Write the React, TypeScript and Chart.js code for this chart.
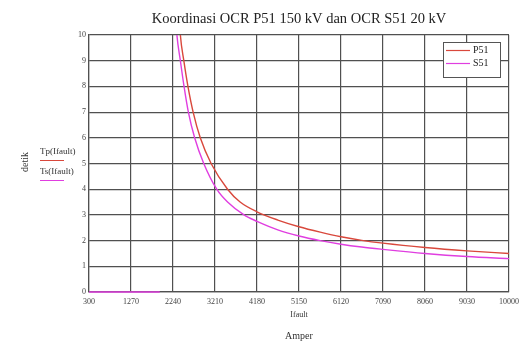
import React, { useEffect, useRef } from "react";
import { Chart, registerables } from "chart.js";

Chart.register(...registerables);

const chartTitle = "Koordinasi OCR P51 150 kV dan OCR S51 20 kV";
const xTicks = [300, 1270, 2240, 3210, 4180, 5150, 6120, 7090, 8060, 9030, 10000];
const yTicks = [0, 1, 2, 3, 4, 5, 6, 7, 8, 9, 10];

const p51Current = [2340, 2410, 2490, 2585, 2705, 2870, 3120, 3500, 3790, 4180, 4660, 5150, 5640, 6120, 6600, 7090, 8060, 9030, 10000];
const p51Time = [12, 10, 9, 8, 7, 6, 5, 4, 3.5, 3.12, 2.8, 2.54, 2.33, 2.15, 2.01, 1.9, 1.73, 1.6, 1.5];

const s51Current = [300, 1934, 2000, 2250, 2330, 2410, 2495, 2595, 2740, 2950, 3250, 3500, 3880, 4180, 4660, 5150, 5640, 6120, 6600, 7090, 8060, 9030, 10000];
const s51Time: (number | null)[] = [0, 0, null, 12, 10, 9, 8, 7, 6, 5, 4, 3.5, 3, 2.75, 2.42, 2.18, 2.0, 1.86, 1.75, 1.66, 1.5, 1.38, 1.3];

const seriesNames = ["P51", "S51"];
const axisNames = { y: "detik", x1: "Ifault", x2: "Amper", tp: "Tp(Ifault)", ts: "Ts(Ifault)" };

const P_COLOR = "#d9483c";
const S_COLOR = "#e03ee0";
const GRID = "#505050";
const SERIF = "'Liberation Serif', 'DejaVu Serif', serif";

const textPlugin = {
  id: "extraText",
  afterDraw(chart: any) {
    const { ctx, chartArea } = chart;
    const cx = (chartArea.left + chartArea.right) / 2;
    ctx.save();
    ctx.fillStyle = "#222";
    ctx.textAlign = "center";
    ctx.textBaseline = "middle";
    ctx.font = `14.5px ${SERIF}`;
    ctx.fillText(chartTitle, cx, 19);

    ctx.fillStyle = "#333";
    ctx.font = `8px ${SERIF}`;
    ctx.fillText(axisNames.x1, cx, 315);
    ctx.font = `10px ${SERIF}`;
    ctx.fillText(axisNames.x2, cx, 336);

    // y axis label
    ctx.save();
    ctx.translate(25, 162);
    ctx.rotate(-Math.PI / 2);
    ctx.font = `10px ${SERIF}`;
    ctx.fillText(axisNames.y, 0, 0);
    ctx.restore();

    ctx.textAlign = "left";
    ctx.font = `9px ${SERIF}`;
    ctx.fillText(axisNames.tp, 40, 152);
    ctx.fillText(axisNames.ts, 40, 172);
    ctx.lineWidth = 1;
    ctx.strokeStyle = P_COLOR;
    ctx.beginPath();
    ctx.moveTo(40, 160.5);
    ctx.lineTo(64, 160.5);
    ctx.stroke();
    ctx.strokeStyle = S_COLOR;
    ctx.beginPath();
    ctx.moveTo(40, 180.5);
    ctx.lineTo(64, 180.5);
    ctx.stroke();

    // legend box
    const bx = 443, by = 42, bw = 57, bh = 35;
    ctx.fillStyle = "#fff";
    ctx.fillRect(bx, by, bw, bh);
    ctx.strokeStyle = "#555";
    ctx.strokeRect(bx + 0.5, by + 0.5, bw, bh);
    ctx.font = `10px ${SERIF}`;
    ctx.fillStyle = "#222";
    [P_COLOR, S_COLOR].forEach((c, i) => {
      const y = 50.5 + i * 13;
      ctx.strokeStyle = c;
      ctx.lineWidth = 1.2;
      ctx.beginPath();
      ctx.moveTo(446, y);
      ctx.lineTo(470, y);
      ctx.stroke();
      ctx.fillText(seriesNames[i], 473, y);
    });
    ctx.restore();
  },
};

export default function App() {
  const ref = useRef<HTMLCanvasElement | null>(null);
  useEffect(() => {
    if (!ref.current) return;
    const chart = new Chart(ref.current, {
      type: "line",
      data: {
        datasets: [
          {
            label: seriesNames[0],
            data: p51Current.map((x, i) => ({ x, y: p51Time[i] })),
            borderColor: P_COLOR,
            borderWidth: 1.4,
            pointRadius: 0,
            cubicInterpolationMode: "monotone",
            fill: false,
          },
          {
            label: seriesNames[1],
            data: s51Current.map((x, i) => ({ x, y: s51Time[i] })) as any,
            borderColor: S_COLOR,
            borderWidth: 1.4,
            pointRadius: 0,
            cubicInterpolationMode: "monotone",
            spanGaps: false,
            fill: false,
            clip: { left: 0, top: 0, right: 0, bottom: 3 } as any,
          },
        ],
      },
      options: {
        animation: false,
        responsive: false,
        layout: { padding: { left: 0, right: 17, top: 35, bottom: 0 } },
        plugins: { legend: { display: false }, title: { display: false }, tooltip: { enabled: false } },
        scales: {
          x: {
            type: "linear",
            min: xTicks[0],
            max: xTicks[xTicks.length - 1],
            afterBuildTicks: (s: any) => {
              s.ticks = xTicks.map((v) => ({ value: v }));
            },
            afterFit: (s: any) => {
              s.height = 51;
            },
            ticks: {
              autoSkip: false,
              maxRotation: 0,
              padding: 5,
              color: "#444",
              font: { size: 8, family: SERIF },
              callback: (v: any) => String(v),
            },
            grid: { color: GRID, lineWidth: 1.2, drawTicks: false },
            border: { color: GRID, width: 1.2 },
          },
          y: {
            type: "linear",
            min: yTicks[0],
            max: yTicks[yTicks.length - 1],
            afterBuildTicks: (s: any) => {
              s.ticks = yTicks.map((v) => ({ value: v }));
            },
            afterFit: (s: any) => {
              s.width = 89;
            },
            ticks: {
              autoSkip: false,
              padding: 3,
              color: "#444",
              font: { size: 8, family: SERIF },
              callback: (v: any) => String(v),
            },
            grid: { color: GRID, lineWidth: 1.2, drawTicks: false },
            border: { color: GRID, width: 1.2 },
          },
        },
      },
      plugins: [textPlugin],
    });
    return () => chart.destroy();
  }, []);
  return (
    <div style={{ position: "absolute", left: 0, top: 0, width: 526, height: 343, background: "#fff" }}>
      <canvas ref={ref} width={526} height={343} />
    </div>
  );
}
